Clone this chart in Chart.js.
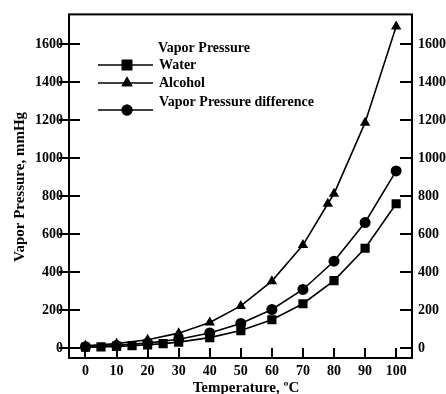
<!DOCTYPE html>
<html>
<head>
<meta charset="utf-8">
<script src="https://cdn.jsdelivr.net/npm/chart.js@4/dist/chart.umd.min.js"></script>
<style>
  html, body { margin: 0; padding: 0; background: #fff; }
  canvas { display: block; }
</style>
</head>
<body>
<canvas id="myChart" width="446" height="394"></canvas>
<script>
// data (vapor pressure in mmHg vs temperature in °C)
let waterTemps = [0, 5, 10, 15, 20, 25, 30, 40, 50, 60, 70, 80, 90, 100];
let waterValues = [4.6, 6.5, 9.2, 12.8, 17.5, 23.8, 31.8, 55.3, 92.5, 149.4, 233.7, 355.1, 525.8, 760];
let alcoholTemps = [0, 10, 20, 30, 40, 50, 60, 70, 78, 80, 90, 100];
let alcoholValues = [12.2, 23.6, 43.9, 78.8, 135.3, 222.2, 352.7, 542.5, 760, 812.6, 1187, 1693];
let diffTemps = [0, 10, 20, 30, 40, 50, 60, 70, 80, 90, 100];
let diffValues = [7.6, 14.4, 26.4, 47.0, 80.0, 129.7, 203.3, 308.8, 457.5, 661.2, 933];
let xTicks = [0, 10, 20, 30, 40, 50, 60, 70, 80, 90, 100];
let yTicks = [0, 200, 400, 600, 800, 1000, 1200, 1400, 1600];
let legendTitle = "Vapor Pressure";
let seriesNames = ["Water", "Alcohol", "Vapor Pressure difference"];
let xTitle = "Temperature, \u00baC";
let yTitle = "Vapor Pressure, mmHg";

const FONT = "Liberation Serif";

function toPoints(xs, ys) {
  return xs.map((x, i) => ({ x: x, y: ys[i] }));
}

function makeDataset(label, xs, ys, style, radius, order) {
  return {
    label: label,
    data: toPoints(xs, ys),
    borderColor: "#000",
    backgroundColor: "#000",
    borderWidth: 1.6,
    pointStyle: style,
    pointRadius: radius,
    pointBorderWidth: 0,
    tension: 0,
    order: order,
  };
}

//TODO: inward tick marks + frame + legend + axis titles
const decorations = {
  id: "decorations",
  beforeDatasetsDraw(chart) {
    const ctx = chart.ctx;
    const a = chart.chartArea;
    const x = chart.scales.x;
    const y = chart.scales.y;
    ctx.save();
    ctx.strokeStyle = "#000";
    ctx.lineWidth = 2;
    ctx.beginPath();
    yTicks.forEach((v) => {
      let py = Math.round(y.getPixelForValue(v));
      ctx.moveTo(a.left - 10, py);
      ctx.lineTo(a.left + 11, py);
      ctx.moveTo(a.right - 12, py);
      ctx.lineTo(a.right, py);
    });
    xTicks.forEach((v) => {
      let px = Math.round(x.getPixelForValue(v));
      ctx.moveTo(px, a.bottom);
      ctx.lineTo(px, a.bottom - 10);
    });
    ctx.stroke();
    ctx.restore();
  },
  afterDraw(chart) {
    const ctx = chart.ctx;
    const a = chart.chartArea;
    ctx.save();
    ctx.strokeStyle = "#000";
    ctx.lineWidth = 2;
    ctx.strokeRect(a.left, a.top, a.right - a.left, a.bottom - a.top);

    // legend
    ctx.fillStyle = "#000";
    ctx.font = "bold 14px '" + FONT + "'";
    ctx.textBaseline = "middle";
    ctx.textAlign = "left";
    ctx.fillText(legendTitle, 158, 48);
    let rows = [
      { text: 65, line: 65, style: "rect" },
      { text: 83, line: 83, style: "triangle" },
      { text: 102, line: 110, style: "circle" },
    ];
    rows.forEach((r, i) => {
      ctx.lineWidth = 1.6;
      ctx.beginPath();
      ctx.moveTo(98, r.line);
      ctx.lineTo(153, r.line);
      ctx.stroke();
      let rad = r.style == "rect" ? 7.5 : r.style == "triangle" ? 6.5 : 5.5;
      Chart.helpers.drawPoint(ctx, { pointStyle: r.style, radius: rad, borderWidth: 0, rotation: 0 }, 127, r.line);
      ctx.fill();
      ctx.fillText(seriesNames[i], 159, r.text);
    });

    // axis titles
    ctx.font = "bold 15px '" + FONT + "'";
    ctx.textAlign = "center";
    ctx.fillText(xTitle, 246, 388);
    ctx.translate(20, 187);
    ctx.rotate(-Math.PI / 2);
    ctx.fillText(yTitle, 0, 0);
    ctx.restore();
  },
};

const tickFont = { family: FONT, size: 14, weight: "bold" };
const plainLabel = (v) => String(v);

let canvas = document.getElementById("myChart").getContext("2d");
let myChart = new Chart(canvas, {
  type: "line",
  data: {
    datasets: [
      makeDataset(seriesNames[0], waterTemps, waterValues, "rect", 6.5, 2),
      makeDataset(seriesNames[1], alcoholTemps, alcoholValues, "triangle", 6, 1),
      makeDataset(seriesNames[2], diffTemps, diffValues, "circle", 5.5, 0),
    ],
  },
  options: {
    responsive: false,
    animation: false,
    layout: { padding: { top: 13, left: 0, right: 0, bottom: 0 } },
    plugins: {
      legend: { display: false },
      tooltip: { enabled: false },
    },
    scales: {
      x: {
        type: "linear",
        min: -5.3,
        max: 105.1,
        afterBuildTicks: (scale) => {
          scale.ticks = xTicks.map((v) => ({ value: v }));
        },
        afterFit: (scale) => {
          scale.height = 36;
        },
        grid: { display: false, drawTicks: false },
        border: { display: false },
        ticks: { font: tickFont, color: "#000", padding: 5, maxRotation: 0, autoSkip: false, callback: plainLabel },
      },
      y: {
        type: "linear",
        position: "left",
        min: -52,
        max: 1757,
        afterBuildTicks: (scale) => {
          scale.ticks = yTicks.map((v) => ({ value: v }));
        },
        afterFit: (scale) => {
          scale.width = 69;
        },
        grid: { display: false, drawTicks: false },
        border: { display: false },
        ticks: { font: tickFont, color: "#000", padding: 6, callback: plainLabel },
      },
      y2: {
        type: "linear",
        position: "right",
        display: true,
        min: -52,
        max: 1757,
        afterBuildTicks: (scale) => {
          scale.ticks = yTicks.map((v) => ({ value: v }));
        },
        afterFit: (scale) => {
          scale.width = 34;
        },
        grid: { display: false, drawTicks: false },
        border: { display: false },
        ticks: { font: tickFont, color: "#000", padding: 6, callback: plainLabel },
      },
    },
  },
  plugins: [decorations],
});
</script>
</body>
</html>
